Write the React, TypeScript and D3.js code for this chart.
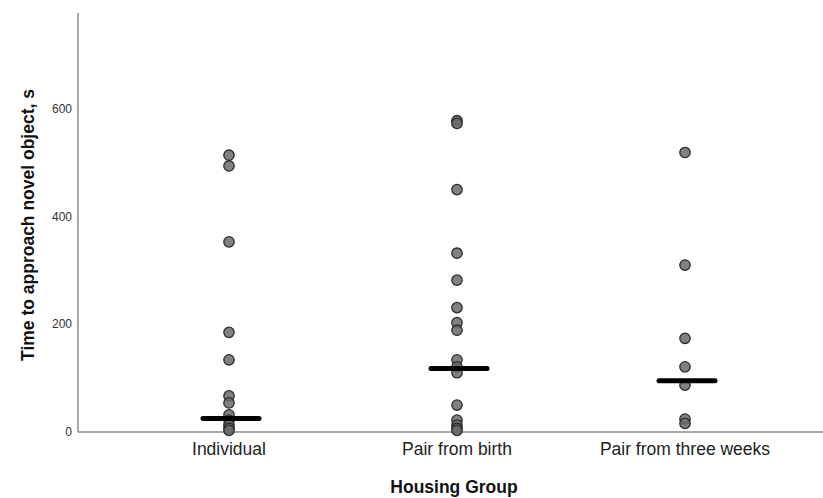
import { useEffect, useMemo } from "react";
import * as d3 from "d3";

const WIDTH = 823;
const HEIGHT = 498;
const MARGIN = { top: 13, right: 0, bottom: 66, left: 78 };

const GROUPS = ["Individual", "Pair from birth", "Pair from three weeks"];
const INDIVIDUAL = [514, 494, 353, 185, 134, 67, 54, 32, 22, 13, 7, 3];
const PAIR_BIRTH = [578, 573, 450, 332, 282, 231, 203, 189, 134, 121, 110, 50, 22, 13, 7, 3];
const PAIR_THREE_WEEKS = [519, 310, 174, 121, 87, 24, 16];
const MEDIANS = [25, 118, 95];
const Y_TICKS = [0, 200, 400, 600];
const Y_MAX = 778;

const SERIES = [INDIVIDUAL, PAIR_BIRTH, PAIR_THREE_WEEKS];
const FONT = "Liberation Sans, Arial, sans-serif";

export default function App() {
  useEffect(() => {
    document.body.style.margin = "0";
  }, []);

  const boundsWidth = WIDTH - MARGIN.left - MARGIN.right;
  const boundsHeight = HEIGHT - MARGIN.top - MARGIN.bottom;

  // categories sit at ~151px, ~380px, ~607px from the y axis
  const xScale = useMemo(
    () => d3.scalePoint<string>().domain(GROUPS).range([151, 607]),
    []
  );
  const yScale = useMemo(
    () => d3.scaleLinear().domain([0, Y_MAX]).range([boundsHeight, 0]),
    [boundsHeight]
  );

  return (
    <svg width={WIDTH} height={HEIGHT} style={{ display: "block" }}>
      <g transform={`translate(${MARGIN.left},${MARGIN.top})`}>
        {/* axes */}
        <line x1={0} x2={0} y1={0} y2={boundsHeight} stroke="#8c8c8c" strokeWidth={1.5} />
        <line x1={0} x2={boundsWidth} y1={boundsHeight} y2={boundsHeight} stroke="#8c8c8c" strokeWidth={1.5} />
        {Y_TICKS.map((t) => (
          <text
            key={t}
            x={-6}
            y={yScale(t)}
            dy="0.35em"
            textAnchor="end"
            fontFamily={FONT}
            fontSize={12}
            fill="#333"
          >
            {t}
          </text>
        ))}
        {GROUPS.map((g) => (
          <text
            key={g}
            x={xScale(g)}
            y={boundsHeight + 23}
            textAnchor="middle"
            fontFamily={FONT}
            fontSize={17.5}
            fill="#222"
          >
            {g}
          </text>
        ))}

        {/* points */}
        {SERIES.map((values, i) =>
          values.map((v, j) => (
            <circle
              key={`${i}-${j}`}
              cx={xScale(GROUPS[i])}
              cy={yScale(v)}
              r={5.2}
              fill="#6b6b6b"
              fillOpacity={0.85}
              stroke="#2b2b2b"
              strokeWidth={1.3}
            />
          ))
        )}

        {/* medians */}
        {MEDIANS.map((m, i) => (
          <line
            key={i}
            x1={(xScale(GROUPS[i]) ?? 0) - 26}
            x2={(xScale(GROUPS[i]) ?? 0) + 30}
            y1={yScale(m)}
            y2={yScale(m)}
            stroke="#000"
            strokeWidth={5}
            strokeLinecap="round"
          />
        ))}
      </g>

      <text
        transform={`translate(34,225) rotate(-90)`}
        textAnchor="middle"
        fontFamily={FONT}
        fontSize={17.5}
        fontWeight="bold"
        fill="#111"
      >
        Time to approach novel object, s
      </text>
      <text
        x={454}
        y={493}
        textAnchor="middle"
        fontFamily={FONT}
        fontSize={17.5}
        fontWeight="bold"
        fill="#111"
      >
        Housing Group
      </text>
    </svg>
  );
}
